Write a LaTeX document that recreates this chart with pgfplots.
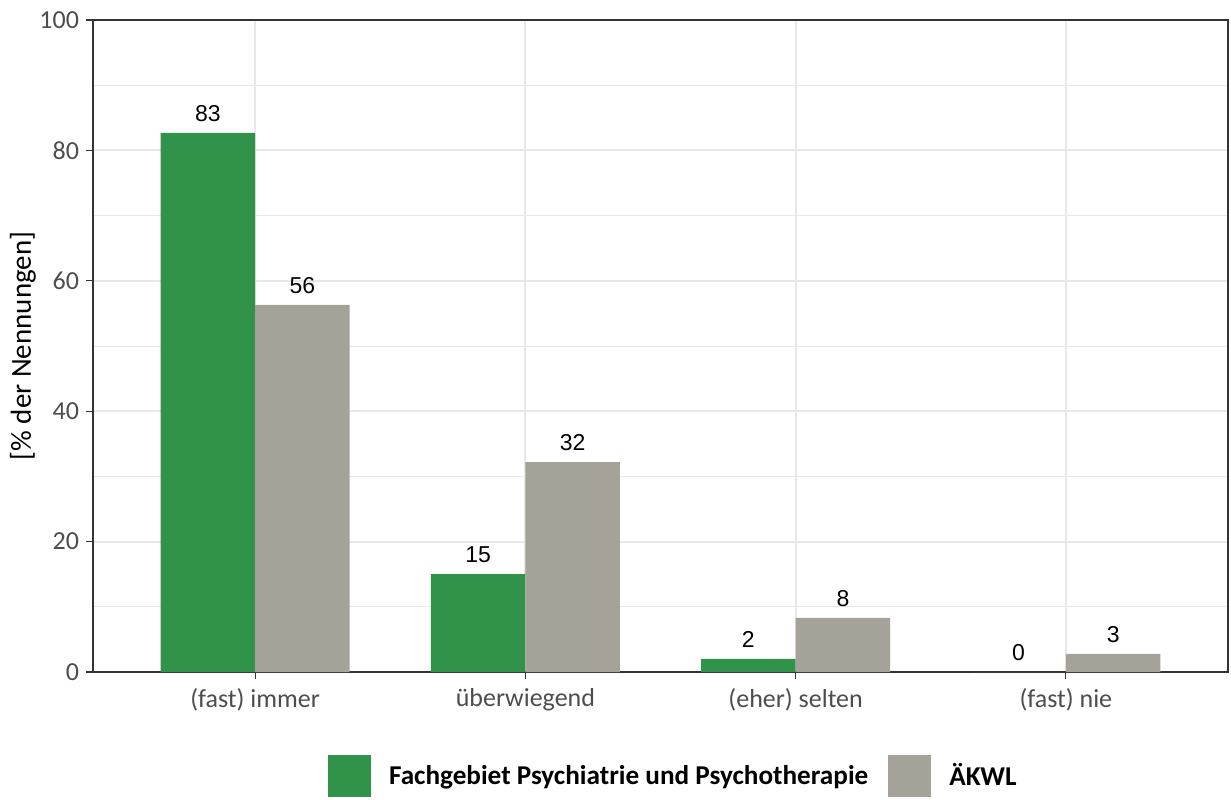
\documentclass[border=0pt]{standalone}
\usepackage{pgfplots}
\pgfplotsset{compat=1.18}
\usepackage{fontspec}
\setmainfont{Carlito}
\newfontfamily\arialfont{Liberation Sans}
\definecolor{cgreen}{RGB}{49,146,74}
\definecolor{cgrey}{RGB}{165,162,154}
\definecolor{gridc}{RGB}{232,232,232}
\definecolor{frame}{RGB}{51,51,51}
\definecolor{ticklab}{RGB}{77,77,77}
\begin{document}
\begin{tikzpicture}
\begin{axis}[
  name=ax,
  scale only axis,
  width=567.5pt, height=326pt,
  xmin=0.4, xmax=4.6, ymin=0, ymax=100,
  ybar, bar width=0.35,
  xtick={1,2,3,4},
  xticklabels={(fast) immer, überwiegend, (eher) selten, (fast) nie},
  ytick={0,20,40,60,80,100},
  minor ytick={10,30,50,70,90},
  xtick pos=bottom, ytick pos=left,
  /pgf/number format/assume math mode=true,
  ticklabel style={font=\fontsize{13}{15}\selectfont, text=ticklab},
  xticklabel style={yshift=-1pt},
  tick style={frame, line width=0.6pt},
  tick align=outside,
  major tick length=3.5pt,
  minor tick length=0pt,
  axis line style={frame, line width=0.6pt},
  ymajorgrids, yminorgrids, xmajorgrids,
  major grid style={gridc, line width=1pt},
  minor grid style={gridc, line width=0.5pt},
  ylabel={[\% der Nennungen]},
  every axis y label/.style={at={(axis description cs:0,0.5)}, xshift=-25pt, rotate=90, anchor=south, font=\fontsize{14.5}{16}\selectfont, text=black},
  nodes near coords={\pgfmathprintnumber[fixed,precision=0]{\pgfplotspointmeta}},
  every node near coord/.append style={font=\arialfont\fontsize{11.5}{13}\selectfont, text=black, inner sep=0pt, anchor=south, yshift=5.5pt},
  legend style={at={(117.5pt,-52pt)}, anchor=west, legend columns=-1, draw=none, fill=none,
    font=\bfseries\fontsize{13.6}{15}\selectfont,
    /tikz/every odd column/.append style={column sep=7pt},
    /tikz/every even column/.append style={column sep=8pt},
    inner sep=0pt, outer sep=0pt},
  legend cell align=left,
  clip=false,
]
\addplot[fill=cgreen, draw=none, bar shift=-0.175,
  legend image code/.code={\fill[cgreen] (0pt,-10.5pt) rectangle (21.5pt,10.5pt);}]
  coordinates {(1,82.7) (2,15.0) (3,2.0) (4,0)};
\addlegendentry{Fachgebiet Psychiatrie und Psychotherapie}
\addplot[fill=cgrey, draw=none, bar shift=0.175,
  legend image code/.code={\fill[cgrey] (0pt,-10.5pt) rectangle (21.5pt,10.5pt);}]
  coordinates {(1,56.3) (2,32.2) (3,8.3) (4,2.8)};
\addlegendentry{ÄKWL}
\end{axis}
\pgfresetboundingbox
\path[use as bounding box] ([xshift=-46.5pt,yshift=-63.5pt]ax.south west) rectangle ([xshift=1.5pt,yshift=10pt]ax.north east);
\end{tikzpicture}
\end{document}
